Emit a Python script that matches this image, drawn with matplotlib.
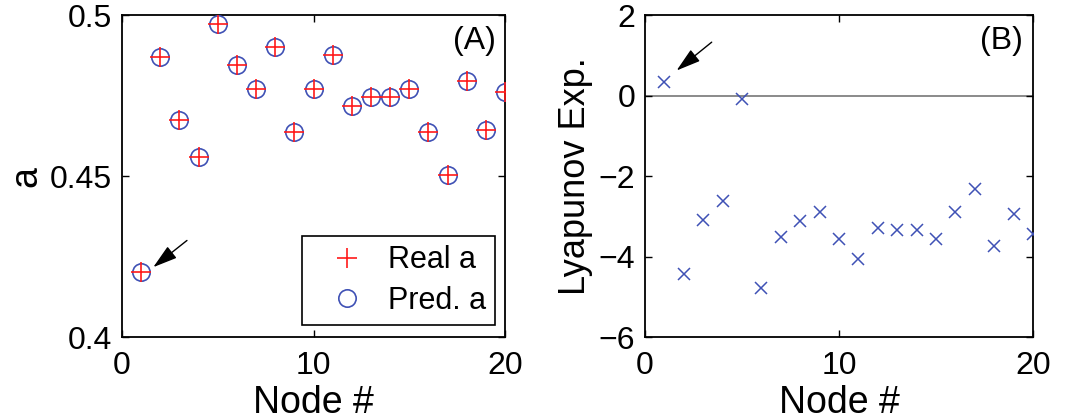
import matplotlib.pyplot as plt

# values
nodes = list(range(1, 21))
real_a = [0.4202, 0.4870, 0.4674, 0.4560, 0.4974, 0.4845, 0.4771, 0.4902, 0.4638, 0.4771,
          0.4876, 0.4719, 0.4745, 0.4745, 0.4771, 0.4638, 0.4503, 0.4794, 0.4642, 0.4760]
pred_a = [0.4202, 0.4870, 0.4674, 0.4560, 0.4974, 0.4845, 0.4771, 0.4902, 0.4638, 0.4771,
          0.4876, 0.4719, 0.4745, 0.4745, 0.4771, 0.4638, 0.4503, 0.4794, 0.4642, 0.4760]
lyap = [0.34, -4.44, -3.08, -2.61, -0.09, -4.77, -3.52, -3.11, -2.90, -3.56,
        -4.06, -3.28, -3.35, -3.35, -3.56, -2.90, -2.31, -3.73, -2.93, -3.44]

plt.rcParams['font.family'] = ['Liberation Sans', 'DejaVu Sans']
plt.rcParams['xtick.direction'] = 'in'
plt.rcParams['ytick.direction'] = 'in'
plt.rcParams['xtick.top'] = True
plt.rcParams['ytick.right'] = True

blue = '#3f51b5'
red = '#ff1a1a'
arrow = dict(arrowstyle='-|>,head_length=1.5,head_width=0.45', color='black', lw=1, shrinkA=0, shrinkB=0)

fig = plt.figure(figsize=(10.65, 4.19), dpi=100)
ax1 = fig.add_axes([0.1146, 0.1957, 0.3596, 0.768])
ax2 = fig.add_axes([0.6056, 0.1957, 0.3643, 0.768])

# (A)
ax1.plot(nodes, pred_a, 'o', mfc='none', mec=blue, ms=12.5, mew=1.2, label='Pred. a', zorder=3)
ax1.plot(nodes, real_a, '+', color=red, ms=14, mew=1.2, label='Real a', zorder=4)
ax1.set_xlim(0, 20)
ax1.set_ylim(0.4, 0.5)
ax1.set_xticks([0, 10, 20])
ax1.set_yticks([0.4, 0.45, 0.5])
ax1.set_yticklabels(['0.4', '0.45', '0.5'])
ax1.set_xlabel('Node #', fontsize=27, labelpad=3)
ax1.set_ylabel('a', fontsize=27, labelpad=4)
ax1.text(0.975, 0.965, '(A)', transform=ax1.transAxes, ha='right', va='top', fontsize=23)
handles, labels = ax1.get_legend_handles_labels()
leg = ax1.legend(handles[::-1], labels[::-1], loc='lower right', fontsize=22, fancybox=False,
                 edgecolor='black', framealpha=1, borderpad=0.3, handlelength=2.3,
                 handletextpad=0.2, labelspacing=0.35, borderaxespad=0,
                 bbox_to_anchor=(0.974, 0.037))
leg.get_frame().set_linewidth(1.2)
ax1.annotate('', xy=(1.63, 0.4217), xytext=(3.39, 0.430), arrowprops=arrow)

# (B)
ax2.axhline(0, color='#777777', lw=1.2, zorder=1)
ax2.plot(nodes, lyap, 'x', color=blue, ms=8, mew=1.1, zorder=3)
ax2.set_xlim(0, 20)
ax2.set_ylim(-6, 2)
ax2.set_xticks([0, 10, 20])
ax2.set_yticks([-6, -4, -2, 0, 2])
ax2.set_yticklabels(['\u22126', '\u22124', '\u22122', '0', '2'])
ax2.set_xlabel('Node #', fontsize=27, labelpad=3)
ax2.set_ylabel('Lyapunov Exp.', fontsize=26, labelpad=4)
ax2.text(0.975, 0.965, '(B)', transform=ax2.transAxes, ha='right', va='top', fontsize=23)
ax2.annotate('', xy=(1.63, 0.625), xytext=(3.44, 1.33), arrowprops=arrow)

for ax in (ax1, ax2):
    ax.tick_params(labelsize=23, length=5, width=1)
    ax.tick_params(axis='x', pad=10)
    ax.tick_params(axis='y', pad=7)
    for s in ax.spines.values():
        s.set_linewidth(1.3)

fig.savefig('out.png', dpi=100)
